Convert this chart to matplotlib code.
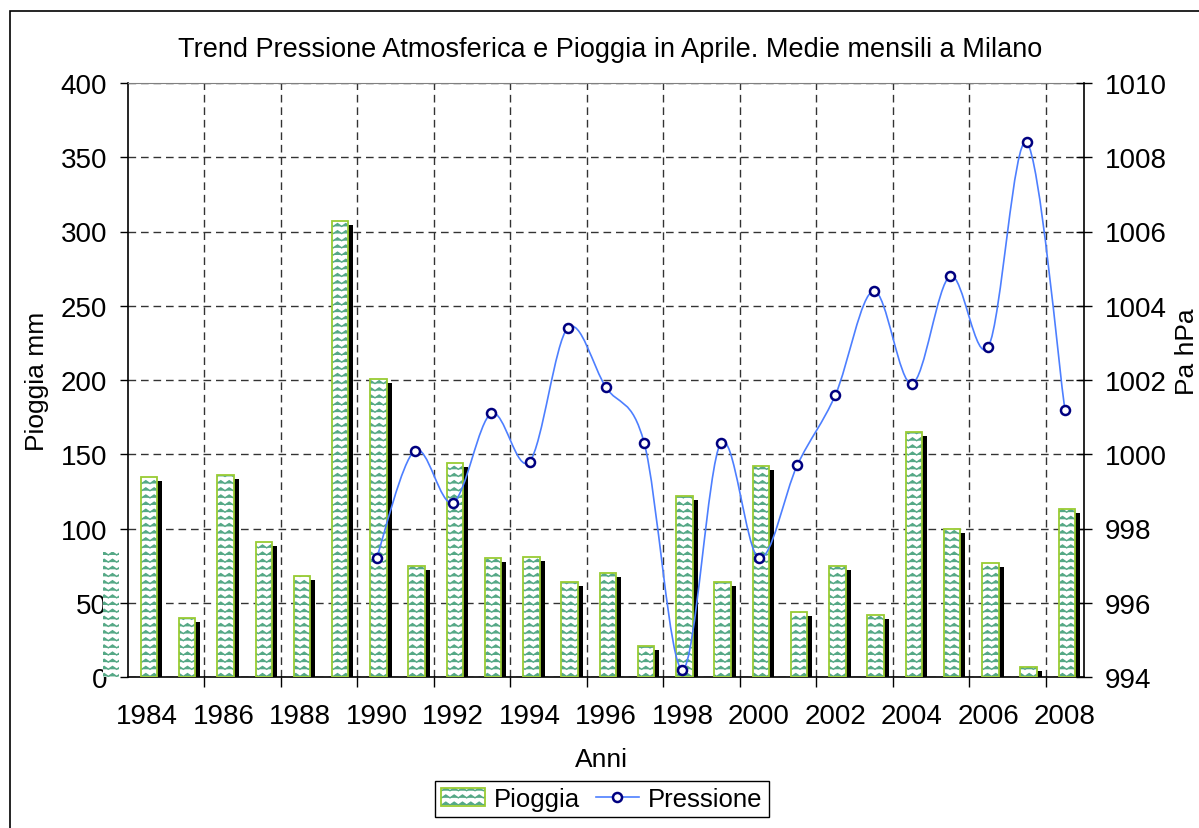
import warnings
import numpy as np
import matplotlib
matplotlib.use('Agg')
import matplotlib.pyplot as plt
import matplotlib.transforms as mtransforms
from matplotlib import hatch as mhatch
from matplotlib.path import Path
from matplotlib.patches import PathPatch, Rectangle, Patch
from matplotlib.lines import Line2D

warnings.filterwarnings('ignore')

# dati
anni = list(range(1984, 2009))
pioggia = [135, 40, 136, 91, 68, 307, 201, 75, 144, 80, 81, 64, 70,
           21, 122, 64, 142, 44, 75, 42, 165, 100, 77, 7, 113]
anni_pressione = list(range(1990, 2009))
pressione = [997.2, 1000.1, 998.7, 1001.1, 999.8, 1003.4, 1001.8, 1000.3,
             994.2, 1000.3, 997.2, 999.7, 1001.6, 1004.4, 1001.9, 1004.8,
             1002.9, 1008.4, 1001.2]
# barra 1983 che nell'originale esce dall'area del grafico
anno_extra = 1983
pioggia_extra = 84
etichette_anni = [str(a) for a in anni[::2]]


# motivo "onde" come nel riempimento di Excel
class Onde(mhatch.HatchPatternBase):
    def __init__(self, hatch, density):
        self.num_rows = hatch.count('~') * 7
        self.num_waves = hatch.count('~') * 6
        self.num_vertices = self.num_rows * (2 * self.num_waves + 1)

    def set_vertices_and_codes(self, vertices, codes):
        n = 2 * self.num_waves + 1
        xs = np.linspace(0, 1, n)
        amp = 0.2 / self.num_rows
        segno = np.where(np.arange(n) % 2 == 0, -1, 1)
        for i in range(self.num_rows):
            y0 = (i + 0.5) / self.num_rows
            vertices[i * n:(i + 1) * n, 0] = xs
            vertices[i * n:(i + 1) * n, 1] = y0 + amp * segno
            codes[i * n] = Path.MOVETO
            codes[i * n + 1:(i + 1) * n] = Path.LINETO


mhatch._hatch_types.append(Onde)

plt.rcParams['font.family'] = ['Liberation Sans', 'DejaVu Sans']
plt.rcParams['hatch.linewidth'] = 1.0

col_onde = '#55a886'
col_bordo = '#99cc33'
col_linea = '#4d7fff'
fs_tick = 20
fs_lab = 19

fig = plt.figure(figsize=(11.99, 8.29), dpi=100)
W, H = 1199, 829
ax = fig.add_axes([128 / W, 1 - 678 / H, (1084 - 128) / W, (678 - 84) / H])
ax2 = ax.twinx()

x = np.array(anni) - anni[0]
larg = 0.43

# ombra delle barre
ombra = mtransforms.offset_copy(ax.transData, fig=fig, x=5, y=-4, units='dots')
ax.bar(x + 0.05, pioggia, width=larg, color='black', linewidth=0, transform=ombra, zorder=2)
# barre con motivo a onde
ax.bar(x + 0.05, pioggia, width=larg, color='white', edgecolor=col_onde, linewidth=0,
       hatch='~~', zorder=3)
ax.bar(x + 0.05, pioggia, width=larg, fill=False, edgecolor=col_bordo, linewidth=1.3, zorder=4)
ax.bar([anno_extra - anni[0] + 0.05], [pioggia_extra], width=larg, color='white',
       edgecolor=col_onde, linewidth=0, hatch='~~', clip_on=False, zorder=3)

# linea della pressione, smussata come in Excel
xp = np.array(anni_pressione, dtype=float) - anni[0]
yp = np.array(pressione)
pts = np.column_stack([xp, yp])
verts = [pts[0]]
codes = [Path.MOVETO]
for i in range(len(pts) - 1):
    p_prev = pts[max(i - 1, 0)]
    p_next2 = pts[min(i + 2, len(pts) - 1)]
    c1 = pts[i] + (pts[i + 1] - p_prev) / 6
    c2 = pts[i + 1] - (p_next2 - pts[i]) / 6
    verts += [c1, c2, pts[i + 1]]
    codes += [Path.CURVE4] * 3
ax2.add_patch(PathPatch(Path(verts, codes), fill=False, edgecolor=col_linea, linewidth=1.2, zorder=5))
ax2.plot(xp, yp, linestyle='none', marker='o', markersize=6.5, markerfacecolor='white',
         markeredgecolor='#000080', markeredgewidth=1.8, zorder=6)

# assi
ax.set_xlim(-0.5, len(anni) - 0.5)
ax.set_ylim(0, 400)
ax2.set_ylim(994, 1010)
ax.set_yticks(np.arange(0, 401, 50))
ax2.set_yticks(np.arange(994, 1011, 2))
ax.set_xticks(x[::2])
ax.set_xticklabels(etichette_anni)
ax.set_xticks(np.arange(1.5, len(anni) - 1, 2), minor=True)

ax.tick_params(axis='x', which='major', length=0, pad=19, labelsize=fs_tick)
ax.tick_params(axis='x', which='minor', length=7, width=1, direction='out')
ax.tick_params(axis='y', length=6, width=1, direction='out', pad=9, labelsize=fs_tick)
ax2.tick_params(axis='y', length=12, width=1, direction='inout', pad=9, labelsize=fs_tick)

ax.set_axisbelow(True)
griglia = dict(color='#333333', linewidth=1, linestyle=(0, (5.5, 3.5)))
ax.grid(True, axis='y', which='major', **griglia)
ax.grid(True, axis='x', which='minor', **griglia)

ax.spines['right'].set_visible(False)
ax.spines['top'].set_color('#808080')
for s in ['left', 'bottom', 'top']:
    ax2.spines[s].set_visible(False)
for s in ['left', 'bottom']:
    ax.spines[s].set_linewidth(1.2)
ax2.spines['right'].set_linewidth(1.2)

# testi
fig.text(610 / W, 1 - 50 / H, 'Trend Pressione Atmosferica e Pioggia in Aprile. Medie mensili a Milano',
         ha='center', va='center', fontsize=19.5)
fig.text(37 / W, 1 - 381 / H, 'Pioggia mm', rotation=90, ha='center', va='center', fontsize=fs_lab)
fig.text(1187 / W, 1 - 352 / H, 'Pa hPa', rotation=90, ha='center', va='center', fontsize=fs_lab)
fig.text(601 / W, 1 - 760 / H, 'Anni', ha='center', va='center', fontsize=fs_lab)

# legenda
h_bar = (Patch(facecolor='white', edgecolor=col_onde, linewidth=0, hatch='~~'),
         Patch(fill=False, edgecolor=col_bordo, linewidth=1.3))
h_lin = Line2D([], [], color=col_linea, linewidth=1.2, marker='o', markersize=6.5,
               markerfacecolor='white', markeredgecolor='#000080', markeredgewidth=1.8)
leg = fig.legend([h_bar, h_lin], ['Pioggia', 'Pressione'], loc='center',
                 bbox_to_anchor=(602 / W, 1 - 800 / H), ncol=2, fontsize=18.5,
                 frameon=True, fancybox=False, framealpha=1, edgecolor='black',
                 handlelength=1.7, handleheight=0.65, handletextpad=0.35,
                 columnspacing=0.6, borderpad=0.25, borderaxespad=0)
leg.get_frame().set_linewidth(1)

# cornice esterna
fig.patches.append(Rectangle((10 / W, -0.1), 1.2, 1.1 - 12 / H, transform=fig.transFigure,
                             fill=False, edgecolor='black', linewidth=1.2))

fig.savefig('out.png', dpi=100)
